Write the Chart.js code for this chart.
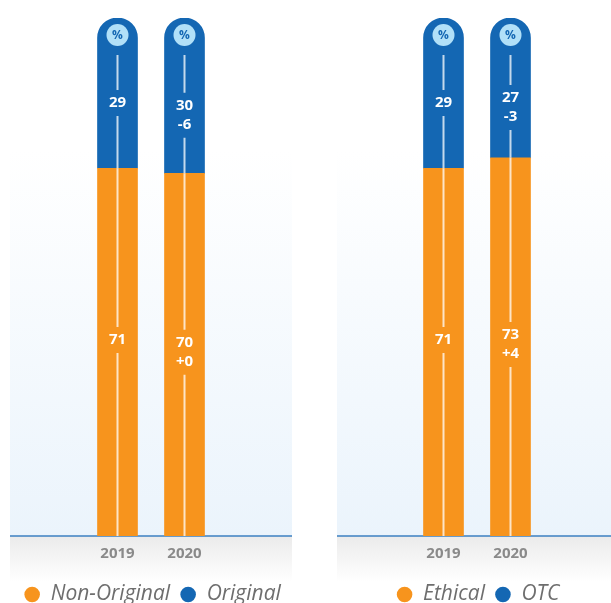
<!DOCTYPE html>
<html lang="en">
<head>
  <meta charset="UTF-8">
  <title>Share by year</title>
  <script src="https://cdn.jsdelivr.net/npm/chart.js"></script>
  <style>
    html, body { margin: 0; padding: 0; background: #fff; }
    .wrap { display: flex; width: 611px; height: 603px; }
    .box { position: relative; height: 603px; }
  </style>
</head>
<body>
  <div class="wrap">
    <div class="box" style="width:305px"><canvas id="left"></canvas></div>
    <div class="box" style="width:306px"><canvas id="right"></canvas></div>
  </div>

  <script>
    const years = ['2019', '2020'];

    // left panel
    const nonOriginal = [71, 70];
    const original = [29, 30];
    const nonOriginalChange = ['', '+0'];
    const originalChange = ['', '-6'];

    // right panel
    const ethical = [71, 73];
    const otc = [29, 27];
    const ethicalChange = ['', '+4'];
    const otcChange = ['', '-3'];

    const ORANGE = '#f7941d';
    const BLUE = '#1467b3';
    const FONT = "'Open Sans', sans-serif";

    // panel background, baseline and the grey strip under it
    const panelBg = {
      id: 'panelBg',
      beforeDraw(chart, args, opts) {
        const { ctx, chartArea } = chart;
        const b = chartArea.bottom;
        ctx.save();
        let g = ctx.createLinearGradient(0, opts.top, 0, b);
        g.addColorStop(0, '#ffffff');
        g.addColorStop(1, '#ebf4fc');
        ctx.fillStyle = g;
        ctx.fillRect(opts.left, opts.top, opts.right - opts.left, b - opts.top);
        g = ctx.createLinearGradient(0, b, 0, b + 46);
        g.addColorStop(0, '#ebebeb');
        g.addColorStop(1, '#ffffff');
        ctx.fillStyle = g;
        ctx.fillRect(opts.left, b, opts.right - opts.left, 46);
        ctx.strokeStyle = '#3c80c2';
        ctx.lineWidth = 1.5;
        ctx.beginPath();
        ctx.moveTo(opts.left, b);
        ctx.lineTo(opts.right, b);
        ctx.stroke();
        ctx.restore();
      }
    };

    // center line, value labels and the % badge on top of each bar
    const barDecor = {
      id: 'barDecor',
      afterDatasetsDraw(chart) {
        const ctx = chart.ctx;
        const last = chart.data.datasets.length - 1;
        ctx.save();
        chart.data.datasets.forEach((ds, di) => {
          chart.getDatasetMeta(di).data.forEach((el, j) => {
            const lines = [String(ds.data[j])];
            if (ds.changes[j]) lines.push(ds.changes[j]);
            const top = di === last ? el.y + 37 : el.y;
            const cy = (el.y + el.base) / 2 + (di === last ? 10 : -12);
            const gapTop = cy - 13;
            const gapBot = cy + (lines.length - 1) * 19 + 13;

            ctx.strokeStyle = 'rgba(255,255,255,0.75)';
            ctx.lineWidth = 2;
            ctx.beginPath();
            ctx.moveTo(el.x, top);
            ctx.lineTo(el.x, gapTop);
            ctx.moveTo(el.x, gapBot);
            ctx.lineTo(el.x, el.base);
            ctx.stroke();

            ctx.fillStyle = '#ffffff';
            ctx.font = 'bold 15px ' + FONT;
            ctx.textAlign = 'center';
            ctx.textBaseline = 'middle';
            lines.forEach((t, k) => ctx.fillText(t, el.x, cy + k * 19));

            if (di === last) {
              ctx.fillStyle = '#b1e0f8';
              ctx.beginPath();
              ctx.arc(el.x, el.y + 17, 11, 0, Math.PI * 2);
              ctx.fill();
              ctx.fillStyle = BLUE;
              ctx.font = 'bold 12px ' + FONT;
              ctx.fillText('%', el.x, el.y + 17.5);
            }
          });
        });
        ctx.restore();
      }
    };

    function makeChart(id, names, lower, upper, lowerChange, upperChange, box) {
      return new Chart(document.getElementById(id), {
        type: 'bar',
        data: {
          labels: years,
          datasets: [
            { label: names[0], data: lower, changes: lowerChange, backgroundColor: ORANGE,
              barThickness: 40, borderRadius: 0, borderSkipped: false },
            { label: names[1], data: upper, changes: upperChange, backgroundColor: BLUE,
              barThickness: 40, borderSkipped: false,
              borderRadius: { topLeft: 20, topRight: 20, bottomLeft: 0, bottomRight: 0 } },
          ],
        },
        options: {
          animation: false,
          responsive: true,
          maintainAspectRatio: false,
          layout: { padding: { top: 18, left: box.padLeft, right: 0, bottom: -12 } },
          scales: {
            x: {
              stacked: true,
              grid: { display: false, drawTicks: false },
              border: { display: false },
              ticks: { color: '#8a8a8a', padding: 9, font: { family: FONT, size: 15, weight: 'bold' } },
              afterFit(s) { s.height = 38; },
            },
            y: {
              stacked: true, min: 0, max: 100,
              grid: { display: false },
              border: { display: false },
              ticks: { display: false },
              afterFit(s) { s.width = box.yLeft; },
            },
            y2: {
              position: 'right', min: 0, max: 100,
              grid: { display: false },
              border: { display: false },
              ticks: { display: false },
              afterFit(s) { s.width = box.yRight; },
            },
          },
          plugins: {
            tooltip: { enabled: false },
            legend: {
              position: 'bottom',
              labels: {
                usePointStyle: true, pointStyle: 'circle',
                boxWidth: 16, boxHeight: 11, padding: 10,
                color: '#6e6e6e',
                font: { family: FONT, size: 21, style: 'italic' },
              },
            },
            panelBg: { left: box.panelLeft, right: box.panelRight, top: 150 },
          },
        },
        plugins: [panelBg, barDecor],
      });
    }

    makeChart('left', ['Non-Original', 'Original'], nonOriginal, original, nonOriginalChange, originalChange,
      { padLeft: 0, yLeft: 84, yRight: 87, panelLeft: 10, panelRight: 292 });
    makeChart('right', ['Ethical', 'OTC'], ethical, otc, ethicalChange, otcChange,
      { padLeft: 40, yLeft: 65, yRight: 67, panelLeft: 32, panelRight: 306 });
  </script>
</body>
</html>
